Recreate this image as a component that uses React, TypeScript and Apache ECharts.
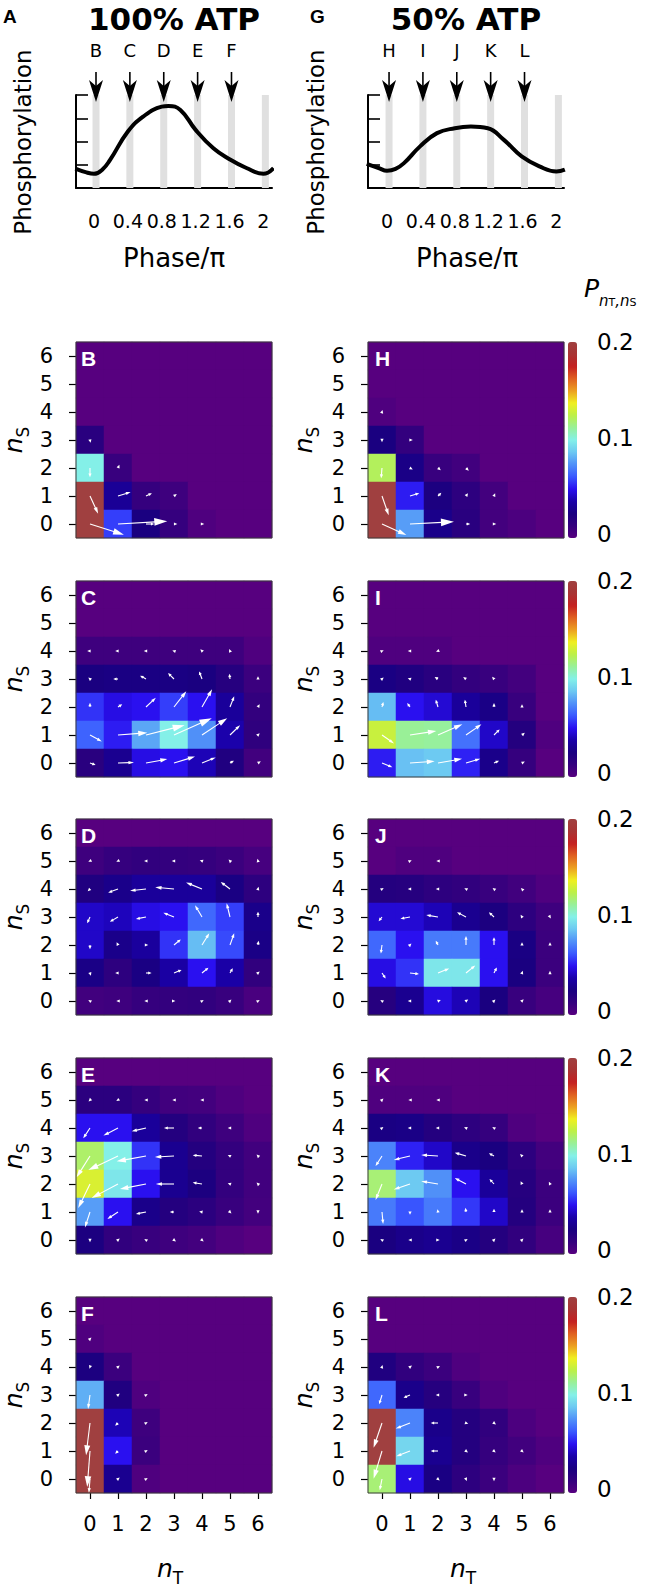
import React, { useEffect, useRef } from 'react';
import * as echarts from 'echarts';

// ---------- data ----------
const nTCategories = ['0', '1', '2', '3', '4', '5', '6'];
const nSCategories = ['0', '1', '2', '3', '4', '5', '6'];
const phaseTicks = [0, 0.4, 0.8, 1.2, 1.6, 2];
const samplePhases = [0, 0.4, 0.8, 1.2, 1.6];
const sampleLabels100 = ['B', 'C', 'D', 'E', 'F'];
const sampleLabels50 = ['H', 'I', 'J', 'K', 'L'];
const colorbarTicks = [0.2, 0.1, 0];

const curve100 = [
  [-0.22, 0.83], [-0.1, 0.68], [0, 0.61], [0.1, 0.8], [0.19, 1.21], [0.4, 2.43], [0.58, 3.07],
  [0.8, 3.5], [0.88, 3.53], [1.02, 3.36], [1.2, 2.5], [1.41, 1.71], [1.6, 1.24], [1.8, 0.86],
  [2.0, 0.61], [2.12, 0.86],
];
const curve50 = [
  [-0.24, 1.04], [-0.1, 0.86], [0, 0.74], [0.1, 0.82], [0.2, 1.07], [0.39, 1.79], [0.59, 2.36],
  [0.8, 2.57], [0.99, 2.64], [1.19, 2.57], [1.38, 2.07], [1.59, 1.36], [1.8, 0.93], [2.0, 0.71],
  [2.1, 0.79],
];

const colorScale = [
  '#57007f', '#34007e', '#1a0080', '#1a00a8', '#2a10f0', '#3a58ff', '#5090f8', '#6cc8f2',
  '#84f0e8', '#98f09a', '#bcf048', '#f0f020', '#eca020', '#e06020', '#c42020', '#a83434', '#a04040',
];

// probabilities, rows listed from nS = 6 (top) down to nS = 0 (bottom), columns nT = 0..6
const probB = [
  [0, 0, 0, 0, 0, 0, 0],
  [0, 0, 0, 0, 0, 0, 0],
  [0, 0, 0, 0, 0, 0, 0],
  [0.018, 0, 0, 0, 0, 0, 0],
  [0.1, 0.011, 0, 0, 0, 0, 0],
  [0.2, 0.032, 0.012, 0.009, 0, 0, 0],
  [0.2, 0.058, 0.025, 0.012, 0.003, 0, 0],
];
const probH = [
  [0, 0, 0, 0, 0, 0, 0],
  [0, 0, 0, 0, 0, 0, 0],
  [0.003, 0, 0, 0, 0, 0, 0],
  [0.025, 0.013, 0, 0, 0, 0, 0],
  [0.122, 0.027, 0.011, 0.008, 0, 0, 0],
  [0.2, 0.052, 0.024, 0.016, 0.007, 0, 0],
  [0.2, 0.078, 0.028, 0.018, 0.007, 0.004, 0],
];
const probC = [
  [0, 0, 0, 0, 0, 0, 0],
  [0, 0, 0, 0, 0, 0, 0],
  [0.009, 0.009, 0.009, 0.009, 0.009, 0.009, 0.003],
  [0.025, 0.026, 0.026, 0.026, 0.025, 0.019, 0.01],
  [0.056, 0.048, 0.05, 0.058, 0.05, 0.033, 0.013],
  [0.065, 0.052, 0.08, 0.1, 0.075, 0.038, 0.015],
  [0.018, 0.03, 0.048, 0.05, 0.04, 0.022, 0.008],
];
const probI = [
  [0, 0, 0, 0, 0, 0, 0],
  [0, 0, 0, 0, 0, 0, 0],
  [0.003, 0.003, 0.003, 0, 0, 0, 0],
  [0.026, 0.022, 0.018, 0.013, 0.011, 0.007, 0],
  [0.085, 0.05, 0.045, 0.033, 0.027, 0.011, 0],
  [0.128, 0.113, 0.112, 0.068, 0.043, 0.02, 0.003],
  [0.052, 0.086, 0.088, 0.053, 0.028, 0.012, 0],
];
const probD = [
  [0, 0, 0, 0, 0, 0, 0],
  [0.009, 0.012, 0.014, 0.013, 0.012, 0.01, 0.006],
  [0.022, 0.028, 0.033, 0.033, 0.033, 0.026, 0.016],
  [0.043, 0.041, 0.048, 0.05, 0.066, 0.058, 0.028],
  [0.043, 0.028, 0.034, 0.056, 0.085, 0.06, 0.027],
  [0.027, 0.016, 0.026, 0.036, 0.05, 0.037, 0.014],
  [0.008, 0.009, 0.012, 0.013, 0.014, 0.011, 0.005],
];
const probJ = [
  [0, 0, 0, 0, 0, 0, 0],
  [0, 0.003, 0.003, 0, 0, 0, 0],
  [0.02, 0.019, 0.016, 0.014, 0.011, 0.008, 0.003],
  [0.045, 0.045, 0.04, 0.03, 0.024, 0.016, 0.009],
  [0.066, 0.05, 0.07, 0.07, 0.05, 0.026, 0.01],
  [0.048, 0.056, 0.097, 0.097, 0.05, 0.025, 0.01],
  [0.019, 0.03, 0.047, 0.04, 0.025, 0.011, 0.006],
];
const probE = [
  [0, 0, 0, 0, 0, 0, 0],
  [0.017, 0.017, 0.012, 0.008, 0.007, 0.003, 0],
  [0.05, 0.05, 0.033, 0.02, 0.014, 0.009, 0.003],
  [0.12, 0.1, 0.056, 0.03, 0.02, 0.013, 0.008],
  [0.132, 0.097, 0.05, 0.03, 0.024, 0.013, 0.008],
  [0.078, 0.05, 0.028, 0.02, 0.017, 0.011, 0.007],
  [0.024, 0.014, 0.011, 0.009, 0.007, 0.003, 0],
];
const probK = [
  [0, 0, 0, 0, 0, 0, 0],
  [0.003, 0.003, 0.003, 0, 0, 0, 0],
  [0.026, 0.027, 0.02, 0.016, 0.012, 0.003, 0],
  [0.072, 0.053, 0.043, 0.028, 0.025, 0.016, 0.007],
  [0.118, 0.088, 0.075, 0.05, 0.033, 0.019, 0.01],
  [0.07, 0.062, 0.07, 0.057, 0.043, 0.02, 0.01],
  [0.025, 0.028, 0.03, 0.027, 0.02, 0.014, 0.006],
];
const probF = [
  [0, 0, 0, 0, 0, 0, 0],
  [0.003, 0, 0, 0, 0, 0, 0],
  [0.024, 0.01, 0, 0, 0, 0, 0],
  [0.082, 0.022, 0.003, 0, 0, 0, 0],
  [0.2, 0.04, 0.009, 0, 0, 0, 0],
  [0.2, 0.05, 0.01, 0, 0, 0, 0],
  [0.2, 0.03, 0.003, 0, 0, 0, 0],
];
const probL = [
  [0, 0, 0, 0, 0, 0, 0],
  [0, 0, 0, 0, 0, 0, 0],
  [0.022, 0.014, 0.01, 0.003, 0, 0, 0],
  [0.066, 0.028, 0.019, 0.011, 0.003, 0, 0],
  [0.2, 0.072, 0.028, 0.02, 0.014, 0.004, 0],
  [0.2, 0.092, 0.03, 0.02, 0.012, 0.008, 0.003],
  [0.118, 0.048, 0.026, 0.016, 0.01, 0.004, 0],
];

// probability flux arrows: [nT, nS, dnT, dnS] (in cell units)
const flowB = [
  [0, 0, 1.21, -0.38], [1, 0, 1.76, 0.1], [2, 0, 0.3, 0], [3, 0, 0.12, 0], [4, 0, 0.08, 0],
  [0, 1, 0.29, -0.63], [1, 1, 0.45, 0.14], [2, 1, 0.21, 0.1], [3, 1, 0.1, 0.07],
  [0, 2, 0, -0.33], [1, 2, 0.05, 0.12], [0, 3, 0.02, -0.1],
];
const flowH = [
  [0, 0, 0.87, -0.39], [1, 0, 1.57, 0.08], [3, 0, 0.15, 0], [4, 0, 0.08, 0],
  [0, 1, 0.24, -0.69], [1, 1, 0.33, 0.1], [2, 1, 0.12, 0.12], [3, 1, 0.07, 0.1], [4, 1, 0.04, 0.1],
  [0, 2, -0.03, -0.37], [1, 2, 0.1, -0.05], [2, 2, 0.1, -0.08], [3, 2, 0.1, -0.1],
  [0, 3, 0, -0.08], [1, 3, 0.1, 0], [0, 4, 0.02, 0.07],
];
const flowC = [
  [0, 0, 0.2, -0.07], [1, 0, 0.57, 0.02], [2, 0, 0.76, 0.14], [3, 0, 0.75, 0.23], [4, 0, 0.49, 0.2], [5, 0, 0.14, 0.08], [6, 0, 0.1, 0.06],
  [0, 1, 0.42, -0.23], [1, 1, 1.05, 0.08], [2, 1, 1.38, 0.35], [3, 1, 1.35, 0.6], [4, 1, 0.9, 0.6], [5, 1, 0.36, 0.35], [6, 1, 0.06, 0.06],
  [0, 2, 0, 0.15], [1, 2, 0.15, 0.1], [2, 2, 0.35, 0.33], [3, 2, 0.44, 0.56], [4, 2, 0.36, 0.63], [5, 2, 0.15, 0.38], [6, 2, 0.06, 0.1],
  [0, 3, -0.06, 0.05], [1, 3, -0.17, 0], [2, 3, -0.21, 0.12], [3, 3, -0.21, 0.21], [4, 3, -0.1, 0.27], [5, 3, -0.02, 0.19], [6, 3, 0, 0.1],
  [0, 4, -0.1, 0], [1, 4, -0.1, 0], [2, 4, -0.08, 0], [3, 4, -0.06, 0.02], [4, 4, -0.06, 0.06], [5, 4, -0.03, 0.07],
];
const flowI = [
  [0, 0, 0.37, -0.15], [1, 0, 0.88, 0.06], [2, 0, 0.86, 0.15], [3, 0, 0.51, 0.15], [4, 0, 0.18, 0.08], [5, 0, 0.1, 0.05],
  [0, 1, 0.43, -0.3], [1, 1, 0.94, 0.14], [2, 1, 0.87, 0.38], [3, 1, 0.55, 0.38], [4, 1, 0.2, 0.2], [5, 1, 0.1, 0.08],
  [0, 2, 0.05, 0.18], [1, 2, -0.1, 0.14], [2, 2, -0.08, 0.26], [3, 2, -0.04, 0.26], [4, 2, 0, 0.14], [5, 2, 0, 0.1],
  [0, 3, 0.06, 0.05], [1, 3, -0.08, 0.03], [2, 3, -0.12, 0.07], [3, 3, -0.1, 0.07], [4, 3, -0.07, 0.08],
  [0, 4, 0.06, 0.03], [1, 4, -0.08, 0], [2, 4, -0.07, -0.03],
];
const flowD = [
  [0, 0, -0.06, 0.04], [1, 0, -0.06, 0], [2, 0, -0.06, 0], [3, 0, 0.05, 0], [4, 0, 0.06, 0.04], [5, 0, 0.05, 0.05], [6, 0, 0.06, 0.04],
  [0, 1, 0.03, -0.1], [1, 1, -0.1, 0], [2, 1, 0.2, 0], [3, 1, 0.27, 0.11], [4, 1, 0.23, 0.19], [5, 1, 0.1, 0.17], [6, 1, 0.06, 0.05],
  [0, 2, 0, -0.15], [1, 2, -0.05, 0.1], [2, 2, 0.08, 0], [3, 2, 0.24, 0.2], [4, 2, 0.26, 0.42], [5, 2, 0.15, 0.42], [6, 2, 0.02, 0.15],
  [0, 3, -0.1, -0.22], [1, 3, -0.29, -0.17], [2, 3, -0.36, -0.07], [3, 3, -0.38, 0.15], [4, 3, -0.25, 0.42], [5, 3, -0.12, 0.49], [6, 3, 0, 0.19],
  [0, 4, -0.08, -0.08], [1, 4, -0.35, -0.13], [2, 4, -0.57, -0.06], [3, 4, -0.67, 0.06], [4, 4, -0.57, 0.23], [5, 4, -0.33, 0.25], [6, 4, 0.02, 0.08],
  [0, 5, -0.06, -0.03], [1, 5, -0.06, -0.03], [2, 5, -0.07, 0], [3, 5, -0.08, 0], [4, 5, -0.08, 0.03], [5, 5, -0.05, 0.05], [6, 5, -0.02, 0.08],
];
const flowJ = [
  [0, 0, -0.06, 0.04], [1, 0, -0.08, 0], [2, 0, 0.1, 0.04], [3, 0, 0.08, 0.05], [4, 0, 0.05, 0.05], [5, 0, 0.06, 0.06],
  [0, 1, 0.13, -0.2], [1, 1, 0.32, -0.04], [2, 1, 0.4, 0.16], [3, 1, 0.33, 0.27], [4, 1, 0.1, 0.2], [5, 1, 0.03, 0.08], [6, 1, 0, 0.08],
  [0, 2, -0.04, -0.3], [1, 2, 0.05, 0.05], [2, 2, -0.08, 0.15], [3, 2, 0, 0.32], [4, 2, 0, 0.28], [5, 2, 0, 0.1], [6, 2, 0, 0.1],
  [0, 3, -0.12, -0.15], [1, 3, -0.34, -0.06], [2, 3, -0.42, 0.07], [3, 3, -0.32, 0.17], [4, 3, -0.18, 0.17], [5, 3, -0.05, 0.08], [6, 3, 0.03, -0.05],
  [0, 4, 0.06, 0.04], [1, 4, -0.08, 0], [2, 4, -0.08, 0], [3, 4, -0.06, 0.03], [4, 4, -0.05, 0.04], [5, 4, -0.04, 0.04],
  [1, 5, 0.06, 0.03], [2, 5, -0.06, 0],
];
const flowE = [
  [0, 0, 0, -0.08], [1, 0, 0.06, 0.05], [2, 0, -0.06, 0.04], [3, 0, 0.07, -0.05], [4, 0, 0.06, -0.05],
  [0, 1, -0.18, -0.55], [1, 1, -0.38, -0.25], [2, 1, -0.36, -0.07], [3, 1, -0.15, 0], [4, 1, -0.1, 0.02], [5, 1, 0.05, -0.05], [6, 1, 0, -0.06],
  [0, 2, -0.42, -0.86], [1, 2, -0.94, -0.5], [2, 2, -0.93, -0.18], [3, 2, -0.65, 0], [4, 2, -0.33, 0.05], [5, 2, -0.08, 0.03], [6, 2, -0.05, 0.05],
  [0, 3, -0.48, -0.76], [1, 3, -1.06, -0.5], [2, 3, -1.05, -0.19], [3, 3, -0.68, -0.04], [4, 3, -0.33, 0.03], [5, 3, -0.08, 0.04], [6, 3, -0.05, 0.05],
  [0, 4, -0.24, -0.37], [1, 4, -0.52, -0.27], [2, 4, -0.51, -0.12], [3, 4, -0.36, 0], [4, 4, -0.15, 0], [5, 4, -0.08, 0],
  [0, 5, -0.05, -0.05], [1, 5, -0.06, -0.04], [2, 5, -0.06, 0], [3, 5, -0.06, 0], [4, 5, -0.06, 0],
];
const flowK = [
  [0, 0, -0.06, 0.04], [1, 0, -0.06, 0], [2, 0, 0.06, 0], [3, 0, 0.06, 0.04], [4, 0, 0.05, 0.05], [5, 0, 0.05, 0.05],
  [0, 1, 0.04, -0.43], [1, 1, 0, -0.1], [2, 1, -0.02, 0.1], [3, 1, -0.02, 0.15], [4, 1, 0, 0.12], [5, 1, 0, 0.1], [6, 1, 0, 0.1],
  [0, 2, -0.23, -0.57], [1, 2, -0.58, -0.2], [2, 2, -0.6, 0.1], [3, 2, -0.4, 0.21], [4, 2, -0.16, 0.18], [5, 2, -0.05, 0.1], [6, 2, -0.04, 0.08],
  [0, 3, -0.23, -0.36], [1, 3, -0.58, -0.14], [2, 3, -0.6, 0.04], [3, 3, -0.4, 0.12], [4, 3, -0.18, 0.1], [5, 3, -0.07, 0.07],
  [0, 4, 0.05, 0.04], [1, 4, -0.08, 0], [2, 4, -0.08, 0], [3, 4, -0.07, 0.03], [4, 4, -0.06, 0.04],
  [0, 5, 0.05, 0.05], [1, 5, -0.06, 0], [2, 5, -0.06, 0],
];
const flowF = [
  [0, 0, -0.04, -0.5], [0, 1, -0.1, -1.29], [0, 2, -0.14, -1.15], [0, 3, -0.07, -0.5], [0, 4, -0.02, -0.06], [0, 5, 0.05, 0.05],
  [1, 0, 0.06, 0.05], [1, 1, -0.1, -0.1], [1, 2, -0.1, -0.1], [1, 3, 0.06, 0.05], [1, 4, 0.06, 0.05],
  [2, 0, 0.06, 0.04], [2, 1, 0.06, 0.04], [2, 2, 0.06, 0.04], [2, 3, 0.06, 0.04],
];
const flowL = [
  [0, 0, -0.08, -0.4], [1, 0, 0.06, 0.05], [2, 0, 0.06, -0.05], [3, 0, 0.03, -0.07], [4, 0, 0, -0.08],
  [0, 1, -0.3, -0.99], [1, 1, -0.49, -0.19], [2, 1, -0.26, 0], [3, 1, 0.07, -0.05], [4, 1, 0.06, -0.05], [5, 1, 0.06, -0.05],
  [0, 2, -0.3, -0.88], [1, 2, -0.51, -0.2], [2, 2, -0.26, 0], [3, 2, 0.08, -0.03], [4, 2, 0.07, -0.05],
  [0, 3, -0.1, -0.33], [1, 3, -0.23, -0.1], [2, 3, -0.08, 0], [3, 3, 0.06, 0],
  [0, 4, 0.02, 0.07], [1, 4, 0.07, 0.05], [2, 4, 0.07, 0.04],
];

const panels = [
  { letter: 'B', col: 0, row: 0, prob: probB, flow: flowB },
  { letter: 'H', col: 1, row: 0, prob: probH, flow: flowH },
  { letter: 'C', col: 0, row: 1, prob: probC, flow: flowC },
  { letter: 'I', col: 1, row: 1, prob: probI, flow: flowI },
  { letter: 'D', col: 0, row: 2, prob: probD, flow: flowD },
  { letter: 'J', col: 1, row: 2, prob: probJ, flow: flowJ },
  { letter: 'E', col: 0, row: 3, prob: probE, flow: flowE },
  { letter: 'K', col: 1, row: 3, prob: probK, flow: flowK },
  { letter: 'F', col: 0, row: 4, prob: probF, flow: flowF },
  { letter: 'L', col: 1, row: 4, prob: probL, flow: flowL },
];

// ---------- layout ----------
const FONT = '"DejaVu Sans", sans-serif';
const BOLD_FONT = '"Liberation Sans", Arial, sans-serif';
const COL_LEFT = [76, 368];
const ROW_TOP = [342, 581, 819, 1058, 1297];
const SIZE = 196;
const TOP_GRID_TOP = 95;
const TOP_GRID_H = 93;

function arrowRender(params: any, api: any) {
  const p = api.coord([api.value(0), api.value(1)]);
  const s = api.size([1, 1]);
  const ex = p[0] + api.value(2) * s[0];
  const ey = p[1] - api.value(3) * s[1];
  const vx = ex - p[0];
  const vy = ey - p[1];
  const L = Math.hypot(vx, vy) || 0.001;
  const ux = vx / L;
  const uy = vy / L;
  const hl = Math.max(3.4, Math.min(13, 0.27 * L + 1.2));
  const hw = Math.max(1.6, hl * 0.3);
  const bx = ex - ux * hl;
  const by = ey - uy * hl;
  const children: any[] = [];
  if (L > hl) {
    children.push({ type: 'line', shape: { x1: p[0], y1: p[1], x2: bx + ux * 1, y2: by + uy * 1 }, style: { stroke: '#fff', lineWidth: 1.1 } });
  }
  children.push({
    type: 'polygon',
    shape: { points: [[ex, ey], [bx - uy * hw, by + ux * hw], [bx + uy * hw, by - ux * hw]] },
    style: { fill: '#fff' },
  });
  return { type: 'group', children };
}

function barRender(params: any, api: any) {
  const a = api.coord([api.value(0), 4]);
  const b = api.coord([api.value(0), 0]);
  return { type: 'rect', shape: { x: a[0] - 1.5, y: a[1], width: 7, height: b[1] - a[1] }, style: { fill: '#e0e0e0' } };
}

function markerRender(labels: string[]) {
  return (params: any, api: any) => {
    const p = api.coord([api.value(0), 4]);
    const x = p[0] + 2;
    const top = p[1];
    return {
      type: 'group',
      children: [
        { type: 'line', shape: { x1: x, y1: top - 23, x2: x, y2: top - 8 }, style: { stroke: '#000', lineWidth: 1.6 } },
        { type: 'polygon', shape: { points: [[x, top + 7], [x - 7, top - 15], [x, top - 9], [x + 7, top - 15]] }, style: { fill: '#000' } },
        { type: 'text', x, y: top - 45, style: { text: labels[params.dataIndex], fontSize: 18, fontFamily: FONT, fill: '#000', align: 'center', verticalAlign: 'middle' } },
      ],
    };
  };
}

function buildOption() {
  const grid: any[] = [
    { left: 76, top: TOP_GRID_TOP, width: 196, height: TOP_GRID_H, outerBoundsMode: 'none' },
    { left: 368, top: TOP_GRID_TOP, width: 196, height: TOP_GRID_H, outerBoundsMode: 'none' },
  ];
  const xAxis: any[] = [];
  const yAxis: any[] = [];
  const series: any[] = [];
  const visualMap: any[] = [];
  const graphic: any[] = [];

  const topRanges = [[-0.2126, 2.102], [-0.225, 2.09]];
  const curves = [curve100, curve50];
  const labelSets = [sampleLabels100, sampleLabels50];
  for (let i = 0; i < 2; i++) {
    xAxis.push({
      type: 'value', gridIndex: i, min: topRanges[i][0], max: topRanges[i][1],
      axisLine: { show: true, onZero: false, lineStyle: { color: '#000', width: 2 } },
      axisTick: { show: true, inside: true, length: 12, customValues: phaseTicks, lineStyle: { color: '#000', width: 1.6 } },
      axisLabel: { show: true, customValues: phaseTicks, formatter: (v: number) => String(Math.round(v * 10) / 10), fontSize: 19, color: '#000', fontFamily: FONT, margin: 23 },
      splitLine: { show: false },
    });
    yAxis.push({
      type: 'value', gridIndex: i, min: 0, max: 4, interval: 1,
      axisLine: { show: true, onZero: false, lineStyle: { color: '#000', width: 2 } },
      axisTick: { show: true, inside: true, length: 12, lineStyle: { color: '#000', width: 1.6 } },
      axisLabel: { show: false },
      splitLine: { show: false },
    });
    series.push({ type: 'custom', xAxisIndex: i, yAxisIndex: i, data: phaseTicks.map((p) => [p, 0]), renderItem: barRender, z: 1, silent: true, clip: false });
    series.push({ type: 'line', xAxisIndex: i, yAxisIndex: i, data: curves[i], smooth: 0.45, symbol: 'none', showSymbol: false, lineStyle: { color: '#000', width: 4 }, clip: false, z: 3, silent: true });
    series.push({ type: 'custom', xAxisIndex: i, yAxisIndex: i, data: samplePhases.map((p) => [p, 4]), renderItem: markerRender(labelSets[i]), z: 4, silent: true, clip: false });
  }

  panels.forEach((pn, k) => {
    const g = 2 + k;
    const left = COL_LEFT[pn.col];
    const top = ROW_TOP[pn.row];
    const isBottom = pn.row === 4;
    grid.push({ left, top, width: SIZE, height: SIZE, outerBoundsMode: 'none' });
    xAxis.push({
      type: 'category', gridIndex: g, data: nTCategories,
      axisLine: { show: false },
      axisTick: { show: isBottom, alignWithLabel: true, length: 6, lineStyle: { color: '#000', width: 1.2 } },
      axisLabel: { show: isBottom, fontSize: 21, color: '#000', fontFamily: FONT, margin: 20 },
      splitLine: { show: false }, splitArea: { show: false },
    });
    yAxis.push({
      type: 'category', gridIndex: g, data: nSCategories,
      axisLine: { show: false },
      axisTick: { show: true, alignWithLabel: true, length: 7, lineStyle: { color: '#000', width: 1.2 } },
      axisLabel: { show: true, fontSize: 21, color: '#000', fontFamily: FONT, margin: 23 },
      splitLine: { show: false }, splitArea: { show: false },
    });
    const cells: number[][] = [];
    pn.prob.forEach((rowVals, r) => {
      rowVals.forEach((v, c) => cells.push([c, 6 - r, v]));
    });
    series.push({ type: 'heatmap', xAxisIndex: g, yAxisIndex: g, data: cells, emphasis: { disabled: true }, silent: true, z: 2, itemStyle: { borderWidth: 0 } });
    series.push({ type: 'custom', xAxisIndex: g, yAxisIndex: g, data: pn.flow, renderItem: arrowRender, z: 3, silent: true, clip: false });

    // frame
    graphic.push({ type: 'rect', silent: true, z: 50, shape: { x: left, y: top, width: SIZE, height: SIZE }, style: { fill: 'none', stroke: '#3a3a3a', lineWidth: 1 } });
    // panel letter
    graphic.push({ type: 'text', silent: true, z: 60, x: left + (pn.col === 0 ? 5 : 7), y: top + 16, style: { text: pn.letter, fill: '#fff', fontSize: 21, fontWeight: 'bold', fontFamily: BOLD_FONT, align: 'left', verticalAlign: 'middle' } });
    // n_S label
    graphic.push({
      type: 'text', silent: true, z: 60, x: pn.col === 0 ? 16 : 306, y: top + 98, rotation: Math.PI / 2,
      style: {
        text: '{n|n}{s|S}', align: 'center', verticalAlign: 'middle',
        rich: {
          n: { fontSize: 25, fontStyle: 'italic', fontFamily: FONT, fill: '#000', lineHeight: 24, verticalAlign: 'top' },
          s: { fontSize: 17, fontFamily: FONT, fill: '#000', lineHeight: 30, verticalAlign: 'bottom' },
        },
      },
    });
  });

  // colour bars, one per row
  for (let r = 0; r < 5; r++) {
    visualMap.push({
      type: 'continuous', min: 0, max: 0.2, seriesIndex: [6 + 2 * (2 * r), 6 + 2 * (2 * r + 1)],
      orient: 'vertical', left: 568, top: ROW_TOP[r], itemWidth: 9, itemHeight: SIZE,
      calculable: false, hoverLink: false, padding: 0, text: null, showLabel: false,
      inRange: { color: colorScale },
    });
    colorbarTicks.forEach((v) => {
      graphic.push({
        type: 'text', silent: true, z: 60, x: 597, y: ROW_TOP[r] + ((0.2 - v) / 0.2) * 192,
        style: { text: String(v), fill: '#000', fontSize: 23, fontFamily: FONT, align: 'left', verticalAlign: 'middle' },
      });
    });
  }

  // n_T labels
  [170, 463].forEach((x) => {
    graphic.push({
      type: 'text', silent: true, z: 60, x, y: 1571,
      style: {
        text: '{n|n}{s|T}', align: 'center', verticalAlign: 'middle',
        rich: {
          n: { fontSize: 25, fontStyle: 'italic', fontFamily: FONT, fill: '#000', lineHeight: 24, verticalAlign: 'top' },
          s: { fontSize: 17, fontFamily: FONT, fill: '#000', lineHeight: 30, verticalAlign: 'bottom' },
        },
      },
    });
  });

  // top panel texts
  const t = (x: number, y: number, text: string, style: any, extra: any = {}) =>
    graphic.push({ type: 'text', silent: true, z: 60, x, y, ...extra, style: { text, fill: '#000', fontFamily: FONT, ...style } });
  t(3, 16, 'A', { fontSize: 19, fontWeight: 'bold', fontFamily: BOLD_FONT, align: 'left', verticalAlign: 'middle' });
  t(310, 16, 'G', { fontSize: 19, fontWeight: 'bold', fontFamily: BOLD_FONT, align: 'left', verticalAlign: 'middle' });
  t(174, 19, '100% ATP', { fontSize: 31, fontWeight: 'bold', align: 'center', verticalAlign: 'middle' });
  t(466, 19, '50% ATP', { fontSize: 31, fontWeight: 'bold', align: 'center', verticalAlign: 'middle' });
  t(23, 142, 'Phosphorylation', { fontSize: 23, align: 'center', verticalAlign: 'middle' }, { rotation: Math.PI / 2 });
  t(316, 142, 'Phosphorylation', { fontSize: 23, align: 'center', verticalAlign: 'middle' }, { rotation: Math.PI / 2 });
  t(174, 258, 'Phase/\u03c0', { fontSize: 26, align: 'center', verticalAlign: 'middle' });
  t(467, 258, 'Phase/\u03c0', { fontSize: 26, align: 'center', verticalAlign: 'middle' });
  graphic.push({
    type: 'text', silent: true, z: 60, x: 584, y: 292,
    style: {
      text: '{p|P}{a|n}{b|T}{a|,n}{b|S}', align: 'left', verticalAlign: 'middle',
      rich: {
        p: { fontSize: 25, fontStyle: 'italic', fontFamily: FONT, fill: '#000', lineHeight: 28, verticalAlign: 'top' },
        a: { fontSize: 15, fontStyle: 'italic', fontFamily: FONT, fill: '#000', lineHeight: 32, verticalAlign: 'bottom' },
        b: { fontSize: 11, fontFamily: FONT, fill: '#000', lineHeight: 24, verticalAlign: 'bottom' },
      },
    },
  });

  return {
    animation: false,
    backgroundColor: '#fff',
    textStyle: { fontFamily: FONT },
    grid,
    xAxis,
    yAxis,
    visualMap,
    series,
    graphic,
  };
}

export default function App() {
  const ref = useRef<HTMLDivElement>(null);
  useEffect(() => {
    const chart = echarts.init(ref.current as HTMLDivElement, null, { renderer: 'svg', width: 660, height: 1586 });
    chart.setOption(buildOption() as any);
    return () => chart.dispose();
  }, []);
  return <div ref={ref} style={{ position: 'absolute', left: 0, top: 0, width: 660, height: 1586, background: '#fff' }} />;
}
